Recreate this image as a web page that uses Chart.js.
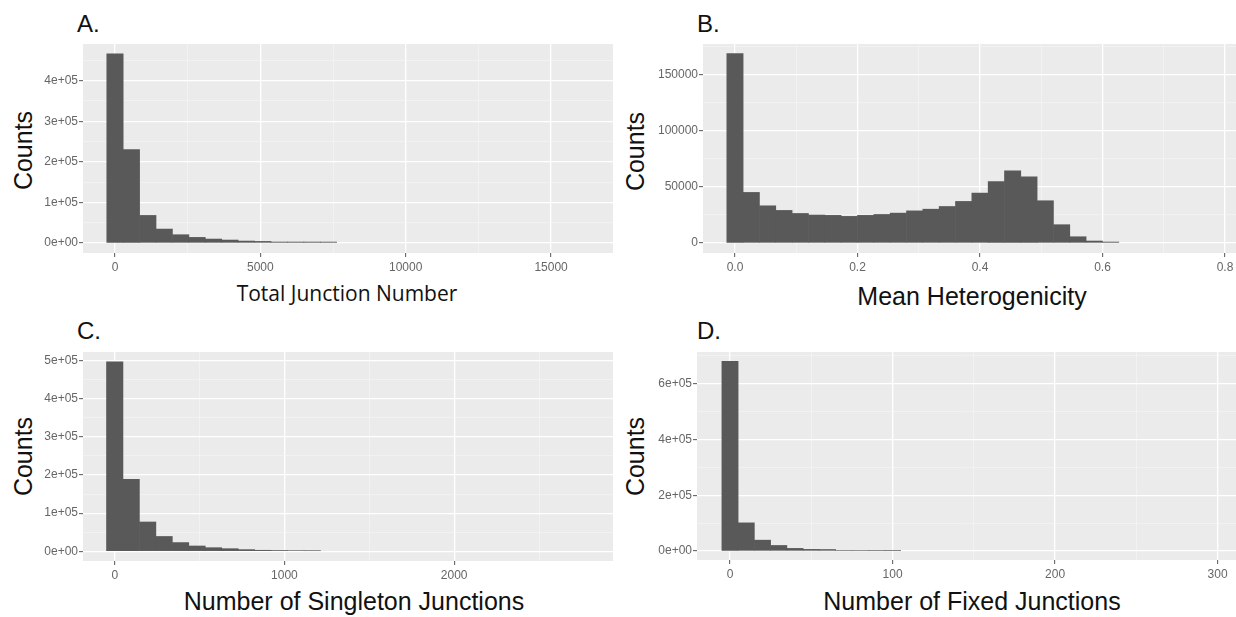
<!DOCTYPE html>
<html>
<head>
<meta charset="utf-8">
<script src="https://cdn.jsdelivr.net/npm/chart.js@4.4.0/dist/chart.umd.min.js"></script>
<style>
  body { margin: 0; background: #fff; }
  #wrap { position: relative; width: 1236px; height: 617px; overflow: hidden; font-family: "Liberation Sans", Arial, sans-serif; color: #111; }
  canvas { position: absolute; }
  .letter { position: absolute; font-size: 24px; line-height: 1; }
  .xtitle { position: absolute; width: 500px; font-size: 25px; line-height: 1; text-align: center; white-space: nowrap; }
  .ytitle { position: absolute; width: 140px; height: 25px; font-size: 25px; line-height: 1; text-align: center; transform: rotate(-90deg); }
</style>
</head>
<body>
<div id="wrap">
  <div class="letter" style="left:77px;top:12px;">A.</div>
  <div class="letter" style="left:697px;top:12px;">B.</div>
  <div class="letter" style="left:77px;top:319px;">C.</div>
  <div class="letter" style="left:697px;top:319px;">D.</div>

  <div class="ytitle" style="left:-47px;top:138px;">Counts</div>
  <div class="ytitle" style="left:565px;top:139px;">Counts</div>
  <div class="ytitle" style="left:-47px;top:444px;">Counts</div>
  <div class="ytitle" style="left:565px;top:444px;">Counts</div>

  <div class="xtitle" style="left:97px;top:283px;font-family:'Open Sans',sans-serif;font-size:21px;">Total Junction Number</div>
  <div class="xtitle" style="left:722px;top:284px;">Mean Heterogenicity</div>
  <div class="xtitle" style="left:104px;top:589px;">Number of Singleton Junctions</div>
  <div class="xtitle" style="left:722px;top:589px;">Number of Fixed Junctions</div>

  <canvas id="chartA" width="580" height="235" style="left:33px;top:44px;"></canvas>
  <canvas id="chartB" width="583" height="235" style="left:653px;top:44px;"></canvas>
  <canvas id="chartC" width="580" height="235" style="left:33px;top:352px;"></canvas>
  <canvas id="chartD" width="589" height="234" style="left:647px;top:352px;"></canvas>
</div>
<script>
// A. Total Junction Number
const aBinWidth = 565;
const aCounts = [466000, 230000, 68000, 34400, 20500, 13900, 9800, 7400, 4900, 4000,
                 2500, 2500, 2500, 2400, 0, 0, 0, 0, 0, 0,
                 0, 0, 0, 0, 0, 0, 0, 0, 0, 0];
const aXRange = [-1100, 17130];
const aYRange = [-24600, 490100];
const aXMajor = [0, 5000, 10000, 15000];
const aXMinor = [2500, 7500, 12500];
const aXLabels = ['0', '5000', '10000', '15000'];
const aYMajor = [0, 100000, 200000, 300000, 400000];
const aYMinor = [50000, 150000, 250000, 350000, 450000];
const aYLabels = ['0e+00', '1e+05', '2e+05', '3e+05', '4e+05'];

// B. Mean Heterogenicity
const bBinWidth = 0.8 / 30;
const bCounts = [168400, 45000, 33100, 29000, 26300, 24900, 24600, 23700, 24600, 25400,
                 26600, 28600, 30100, 32500, 37000, 44400, 54700, 64200, 58900, 37600,
                 16300, 5600, 1800, 900, 0, 0, 0, 0, 0, 0];
const bXRange = [-0.0522, 0.818];
const bYRange = [-8880, 176920];
const bXMajor = [0, 0.2, 0.4, 0.6, 0.8];
const bXMinor = [0.1, 0.3, 0.5, 0.7];
const bXLabels = ['0.0', '0.2', '0.4', '0.6', '0.8'];
const bYMajor = [0, 50000, 100000, 150000];
const bYMinor = [25000, 75000, 125000, 175000];
const bYLabels = ['0', '50000', '100000', '150000'];

// C. Number of Singleton Junctions
const cBinWidth = 97;
const cCounts = [497000, 189000, 77000, 39000, 23000, 14000, 9600, 7000, 4500, 2800,
                 2200, 1800, 1500, 0, 0, 0, 0, 0, 0, 0,
                 0, 0, 0, 0, 0, 0, 0, 0, 0, 0];
const cXRange = [-187, 2936];
const cYRange = [-25400, 522700];
const cXMajor = [0, 1000, 2000];
const cXMinor = [500, 1500, 2500];
const cXLabels = ['0', '1000', '2000'];
const cYMajor = [0, 100000, 200000, 300000, 400000, 500000];
const cYMinor = [50000, 150000, 250000, 350000, 450000];
const cYLabels = ['0e+00', '1e+05', '2e+05', '3e+05', '4e+05', '5e+05'];

// D. Number of Fixed Junctions
const dBinWidth = 10;
const dCounts = [680000, 101000, 39000, 20000, 9500, 6000, 5500, 2500, 2200, 2000,
                 1800, 0, 0, 0, 0, 0, 0, 0, 0, 0,
                 0, 0, 0, 0, 0, 0, 0, 0, 0, 0];
const dXRange = [-20.3, 311.3];
const dYRange = [-32200, 713300];
const dXMajor = [0, 100, 200, 300];
const dXMinor = [50, 150, 250];
const dXLabels = ['0', '100', '200', '300'];
const dYMajor = [0, 200000, 400000, 600000];
const dYMinor = [100000, 300000, 500000, 700000];
const dYLabels = ['0e+00', '2e+05', '4e+05', '6e+05'];

const panelBg = {
  id: 'panelBg',
  beforeDraw(chart) {
    const { ctx, chartArea: a } = chart;
    ctx.save();
    ctx.fillStyle = '#ebebeb';
    ctx.fillRect(a.left, a.top, a.right - a.left, a.bottom - a.top);
    ctx.restore();
  }
};

function axis(range, major, minor, labels, isX) {
  const isMajor = c => c.tick && major.includes(c.tick.value);
  return {
    type: 'linear',
    min: range[0],
    max: range[1],
    offset: false,
    afterBuildTicks: s => {
      s.ticks = major.concat(minor).sort((p, q) => p - q).map(v => ({ value: v }));
    },
    afterFit: s => {
      if (isX) s.height = 26; else s.width = 50;
      s.paddingLeft = 0; s.paddingRight = 0; s.paddingTop = 0; s.paddingBottom = 0;
    },
    border: { display: false },
    grid: {
      offset: false,
      color: c => isMajor(c) ? '#ffffff' : '#f5f5f5',
      lineWidth: c => isMajor(c) ? 1.3 : 0.7,
      tickColor: c => isMajor(c) ? '#555555' : 'rgba(0,0,0,0)',
      tickLength: 4,
      tickWidth: 1
    },
    ticks: {
      autoSkip: false,
      maxRotation: 0,
      padding: isX ? 3 : 1,
      color: '#666666',
      font: { family: '"Liberation Sans", Arial, sans-serif', size: 12 },
      callback: v => {
        const i = major.indexOf(v);
        return i < 0 ? '' : labels[i];
      }
    }
  };
}

function histogram(id, binWidth, counts, xRange, yRange, xMajor, xMinor, xLabels, yMajor, yMinor, yLabels) {
  // empty bins are left out so no hairline is drawn on the baseline
  const points = counts.map((c, i) => ({ x: i * binWidth, y: c > 0 ? c : null }));
  return new Chart(document.getElementById(id), {
    type: 'bar',
    data: {
      datasets: [{
        data: points,
        backgroundColor: '#595959',
        borderWidth: 0,
        inflateAmount: 0.3,
        barPercentage: 1,
        categoryPercentage: 1
      }]
    },
    options: {
      responsive: false,
      animation: false,
      devicePixelRatio: 1,
      events: [],
      layout: { padding: 0 },
      plugins: { legend: { display: false }, tooltip: { enabled: false } },
      scales: {
        x: axis(xRange, xMajor, xMinor, xLabels, true),
        y: axis(yRange, yMajor, yMinor, yLabels, false)
      }
    },
    plugins: [panelBg]
  });
}

histogram('chartA', aBinWidth, aCounts, aXRange, aYRange, aXMajor, aXMinor, aXLabels, aYMajor, aYMinor, aYLabels);
histogram('chartB', bBinWidth, bCounts, bXRange, bYRange, bXMajor, bXMinor, bXLabels, bYMajor, bYMinor, bYLabels);
histogram('chartC', cBinWidth, cCounts, cXRange, cYRange, cXMajor, cXMinor, cXLabels, cYMajor, cYMinor, cYLabels);
histogram('chartD', dBinWidth, dCounts, dXRange, dYRange, dXMajor, dXMinor, dXLabels, dYMajor, dYMinor, dYLabels);
</script>
</body>
</html>
